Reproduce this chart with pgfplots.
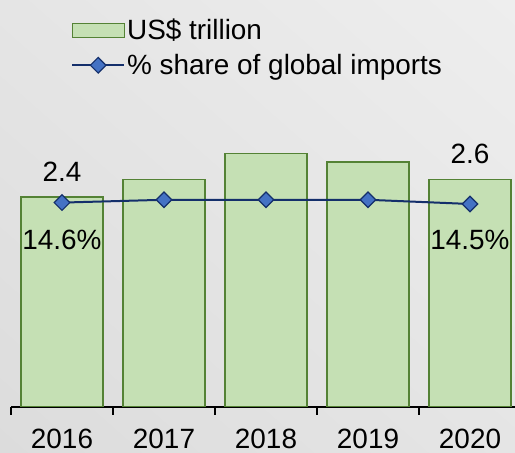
\documentclass[border=0pt]{standalone}
\usepackage{fontspec}
\setmainfont{Liberation Sans}
\usepackage{pgfplots}
\pgfplotsset{compat=1.18}
\usetikzlibrary{shadings}
\definecolor{barfill}{HTML}{C5E0B4}
\definecolor{bardraw}{HTML}{548235}
\definecolor{navy}{HTML}{142F6B}
\definecolor{mk}{HTML}{4472C4}
\definecolor{bgdark}{HTML}{DCDCDC}
\definecolor{bgmid}{HTML}{E5E5E5}
\definecolor{bglight}{HTML}{EEEEEE}
\newcommand{\bigfont}{\fontsize{28}{32}\selectfont}
\pgfplotsset{
  linelegend/.style={legend image code/.code={%
    \draw[navy, line width=2bp] (0bp,0bp) -- (52bp,0bp);
    \draw[navy, fill=mk, line width=1.2bp] (26bp,7.8bp) -- (33.8bp,0bp) -- (26bp,-7.8bp) -- (18.2bp,0bp) -- cycle;}},
  barlegend/.style={legend image code/.code={\draw[fill=barfill, draw=bardraw, line width=1.3bp] (0bp,-7bp) rectangle (52bp,7bp);}},
}
\begin{document}
\begin{tikzpicture}[x=1bp,y=1bp]
\path[use as bounding box] (0,0) rectangle (515,453);
\shade[lower left=bgdark, upper right=bglight, upper left=bgmid, lower right=bgmid] (0,0) rectangle (515,453);
\clip (0,0) rectangle (515,453);
\begin{axis}[
  at={(11bp,46bp)}, anchor=south west, scale only axis,
  width=510bp, height=280bp,
  xmin=-0.5, xmax=4.5, ymin=0, ymax=3.2,
  axis x line=bottom, axis y line=none,
  x axis line style={-, black, line width=1.2bp},
  xtick={0,1,2,3,4}, xticklabels={2016,2017,2018,2019,2020},
  major tick length=0pt,
  minor xtick={-0.5,0.5,1.5,2.5,3.5,4.5}, minor tick length=8bp,
  tick align=outside,
  minor tick style={black, line width=1.2bp},
  xticklabel style={font=\bigfont, inner sep=0pt, yshift=-22bp},
  ybar, bar width=82bp,
  legend style={at={(axis description cs:0.1176,1.389)}, anchor=north west,
    draw=none, fill=none, font=\bigfont, inner sep=0pt, row sep=11bp, column sep=1bp,
    nodes={inner sep=1bp}},
  legend cell align=left,
]
\addplot[fill=barfill, draw=bardraw, line width=1.3bp, barlegend]
  coordinates {(0,2.4) (1,2.6) (2,2.9) (3,2.8) (4,2.6)};
\addlegendentry{US\$ trillion}
\addlegendimage{linelegend}
\addlegendentry{\% share of global imports}
\node[font=\bigfont] at (axis cs:0,2.69) {2.4};
\node[font=\bigfont] at (axis cs:4,2.89) {2.6};
\end{axis}
\begin{axis}[
  at={(11bp,46bp)}, anchor=south west, scale only axis,
  width=510bp, height=280bp,
  xmin=-0.5, xmax=4.5, ymin=0, ymax=20,
  hide axis,
]
\addplot[navy, line width=2bp, mark=square*, mark size=5.5bp,
  mark options={rotate=45, fill=mk, draw=navy, line width=1.2bp}]
  coordinates {(0,14.6) (1,14.8) (2,14.8) (3,14.8) (4,14.5)};
\node[font=\bigfont] at (axis cs:0,11.93) {14.6\%};
\node[font=\bigfont] at (axis cs:4,11.93) {14.5\%};
\end{axis}
\end{tikzpicture}
\end{document}
